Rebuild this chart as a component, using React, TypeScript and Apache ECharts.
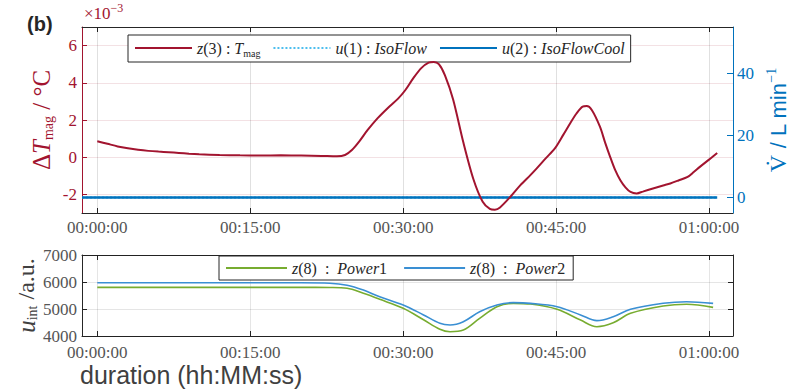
import React, { useEffect, useRef } from "react";
import * as echarts from "echarts";

// time in minutes
const tempT = [0, 1, 2, 3, 4, 5, 6, 7, 8, 9, 10, 12, 14, 16, 18, 20, 22, 23.5, 24.3, 25.0, 25.7, 26.5, 27.5, 28.5, 29.5, 30.2, 31.0, 31.8, 32.5, 33.0, 33.5, 34.1, 34.9, 35.9, 36.9, 37.8, 38.5, 39.0, 39.5, 40.5, 41.5, 42.5, 43.1, 44.0, 44.9, 45.7, 46.4, 47.0, 47.6, 48.0, 48.5, 49.3, 49.8, 50.3, 50.8, 51.3, 51.8, 52.3, 52.9, 53.5, 54.5, 55.5, 56.2, 57.0, 57.9, 58.5, 59.1, 60.0, 60.8];
const tempV = [0.86, 0.72, 0.58, 0.48, 0.40, 0.34, 0.30, 0.27, 0.23, 0.19, 0.16, 0.12, 0.10, 0.09, 0.10, 0.09, 0.07, 0.05, 0.12, 0.4, 0.85, 1.45, 2.1, 2.65, 3.15, 3.6, 4.25, 4.8, 5.08, 5.12, 5.0, 4.4, 3.1, 0.8, -1.2, -2.4, -2.78, -2.82, -2.7, -2.14, -1.5, -0.95, -0.6, -0.05, 0.49, 1.2, 1.84, 2.35, 2.72, 2.75, 2.54, 1.64, 0.8, 0.02, -0.7, -1.24, -1.62, -1.87, -1.95, -1.85, -1.68, -1.52, -1.41, -1.25, -1.06, -0.8, -0.52, -0.13, 0.23];

const flowT = [-1.5, 60.8];
const isoFlow = [0, 0];
const isoFlowCool = [0, 0];

const powT = [0, 10, 20, 22.8, 24.5, 26.1, 27.7, 30.0, 32.0, 33.6, 34.6, 35.9, 37.5, 39.2, 40.8, 42.5, 45.1, 47.4, 49.0, 50.6, 52.3, 55.5, 57.8, 60.4];
const power1 = [5800, 5800, 5800, 5795, 5770, 5580, 5360, 5025, 4600, 4250, 4160, 4220, 4650, 5085, 5210, 5185, 4990, 4590, 4345, 4490, 4840, 5110, 5175, 5060];
const power2 = [5970, 5970, 5970, 5955, 5880, 5700, 5455, 5150, 4780, 4470, 4410, 4530, 4900, 5150, 5235, 5210, 5085, 4780, 4570, 4715, 4990, 5210, 5270, 5210];

const xTicks = [0, 15, 30, 45, 60];
const tempTicks = [-2, 0, 2, 4, 6];
const flowTicks = [0, 20, 40];
const powTicks = [4000, 5000, 6000, 7000];

const CRIMSON = "#A2142F";
const BLUE = "#0072BD";
const LBLUE = "#4DBEEE";
const GREEN = "#77AC30";
const BLUE2 = "#3A8FD3";
const GRAY = "#555555";
const DARK = "#262626";
const SERIF = "'Liberation Serif', serif";

const pad = (n: number) => (n < 10 ? "0" + n : "" + n);
const fmtTime = (v: number) => {
  const tot = Math.round(v * 60);
  const h = Math.floor(tot / 3600);
  const m = Math.floor((tot % 3600) / 60);
  const s = tot % 60;
  return pad(h) + ":" + pad(m) + ":" + pad(s);
};
const zip = (a: number[], b: number[]) => a.map((x, i) => [x, b[i]]);

const legendRich = {
  it: { fontFamily: SERIF, fontStyle: "italic", fontSize: 16, color: DARK },
  n: { fontFamily: SERIF, fontSize: 16, color: DARK },
  s: { fontFamily: SERIF, fontSize: 10, color: DARK, verticalAlign: "bottom", lineHeight: 20 },
};
const legendLabels: Record<string, string> = {
  "z3": "{it|z}{n|(3) : }{it|T}{s|mag}",
  "u1": "{it|u}{n|(1) : }{it|IsoFlow}",
  "u2": "{it|u}{n|(2) : }{it|IsoFlowCool}",
  "p1": "{it|z}{n|(8)\u00a0\u00a0:\u00a0\u00a0}{it|Power}{n|1}",
  "p2": "{it|z}{n|(8)\u00a0\u00a0:\u00a0\u00a0}{it|Power}{n|2}",
};

export default function App() {
  const ref = useRef<HTMLDivElement>(null);
  useEffect(() => {
    if (!ref.current) return;
    const chart = echarts.init(ref.current, null, { renderer: "svg" });
    const XMIN = -1.5, XMAX = 62.35;
    const xBottom = (grid: number, margin: number) => ({
      type: "value", gridIndex: grid, min: XMIN, max: XMAX, position: "bottom",
      axisLine: { onZero: false, lineStyle: { color: DARK, width: 1 } },
      axisTick: { inside: true, length: 5, customValues: xTicks, lineStyle: { color: DARK } },
      axisLabel: { customValues: xTicks, formatter: fmtTime, fontFamily: SERIF, fontSize: 17, color: GRAY, margin },
      splitLine: { show: false },
    });
    const xTop = (grid: number) => ({
      type: "value", gridIndex: grid, min: XMIN, max: XMAX, position: "top",
      axisLine: { onZero: false, lineStyle: { color: DARK, width: 1 } },
      axisTick: { inside: true, length: 5, customValues: xTicks, lineStyle: { color: DARK } },
      axisLabel: { show: false },
      splitLine: { show: false },
    });
    const option: any = {
      animation: false,
      backgroundColor: "#ffffff",
      textStyle: { fontFamily: SERIF },
      grid: [
        { left: 82, right: 61, top: 27, height: 186, outerBoundsMode: "none", containLabel: false },
        { left: 82, right: 61, top: 255, height: 81, outerBoundsMode: "none", containLabel: false },
      ],
      xAxis: [xBottom(0, 6), xTop(0), xBottom(1, 8), xTop(1)],
      yAxis: [
        {
          type: "value", gridIndex: 0, min: -3, max: 7, position: "left",
          axisLine: { show: true, onZero: false, lineStyle: { color: CRIMSON, width: 1 } },
          axisTick: { show: true, inside: true, length: 5, customValues: tempTicks, lineStyle: { color: CRIMSON } },
          axisLabel: { customValues: tempTicks, formatter: (v: number) => String(v), fontFamily: SERIF, fontSize: 17, color: CRIMSON, margin: 5 },
          splitLine: { show: false },
          name: "{d|Δ}{it|T}{s|mag}{d| / °C}",
          nameLocation: "middle", nameRotate: 90, nameGap: 27, nameMoveOverlap: false,
          nameTextStyle: {
            color: CRIMSON, fontFamily: SERIF, fontSize: 25,
            rich: {
              d: { fontFamily: SERIF, fontSize: 25, color: CRIMSON, lineHeight: 28 },
              it: { fontFamily: SERIF, fontStyle: "italic", fontSize: 25, color: CRIMSON, lineHeight: 28 },
              s: { fontFamily: SERIF, fontSize: 14, color: CRIMSON, verticalAlign: "bottom", lineHeight: 28 },
            },
          },
        },
        {
          type: "value", gridIndex: 0, min: -5, max: 55, position: "right",
          axisLine: { show: true, onZero: false, lineStyle: { color: BLUE, width: 1 } },
          axisTick: { show: true, inside: true, length: 6, customValues: flowTicks, lineStyle: { color: BLUE } },
          axisLabel: { customValues: flowTicks, formatter: (v: number) => String(v), fontFamily: SERIF, fontSize: 17, color: BLUE, margin: 4 },
          splitLine: { show: false },
          name: "{v|V̇}{d| / L min}{sup|−1}",
          nameLocation: "middle", nameRotate: 90, nameGap: 31, nameMoveOverlap: false,
          nameTextStyle: {
            color: BLUE, fontSize: 23,
            rich: {
              v: { fontFamily: SERIF, fontSize: 24, color: BLUE, lineHeight: 28 },
              d: { fontFamily: "'Liberation Sans', sans-serif", fontSize: 22, color: BLUE, lineHeight: 28 },
              sup: { fontFamily: SERIF, fontSize: 14, color: BLUE, verticalAlign: "top", lineHeight: 28 },
            },
          },
        },
        {
          type: "value", gridIndex: 1, min: 4000, max: 7000, interval: 1000, position: "left",
          axisLine: { show: true, onZero: false, lineStyle: { color: DARK, width: 1 } },
          axisTick: { show: true, inside: true, length: 5, lineStyle: { color: DARK } },
          axisLabel: { formatter: (v: number) => String(v), fontFamily: SERIF, fontSize: 17, color: GRAY, margin: 5 },
          splitLine: { show: false },
          name: "{it|u}{s|int}{d| /a.u.}",
          nameLocation: "middle", nameRotate: 90, nameGap: 43, nameMoveOverlap: false,
          nameTextStyle: {
            color: "#404040", fontSize: 24,
            rich: {
              it: { fontFamily: SERIF, fontStyle: "italic", fontSize: 25, color: "#404040", lineHeight: 26 },
              d: { fontFamily: SERIF, fontSize: 24, color: "#404040", lineHeight: 26 },
              s: { fontFamily: SERIF, fontSize: 14, color: "#404040", verticalAlign: "bottom", lineHeight: 26 },
            },
          },
        },
        {
          type: "value", gridIndex: 1, min: 4000, max: 7000, interval: 1000, position: "right",
          axisLine: { show: true, onZero: false, lineStyle: { color: DARK, width: 1 } },
          axisTick: { show: true, inside: true, length: 5, lineStyle: { color: DARK } },
          axisLabel: { show: false },
          splitLine: { show: false },
        },
      ],
      legend: [
        {
          data: ["z3", "u1", "u2"],
          left: 128, top: 35, orient: "horizontal",
          itemWidth: 57, itemHeight: 12, itemGap: 12,
          padding: [5, 6, 4, 6],
          borderColor: DARK, borderWidth: 1, backgroundColor: "#ffffff",
          itemStyle: { opacity: 0 },
          formatter: (n: string) => legendLabels[n],
          textStyle: { fontFamily: SERIF, fontSize: 16, color: DARK, rich: legendRich },
        },
        {
          data: ["p1", "p2"],
          left: 219, top: 256, orient: "horizontal",
          itemWidth: 61, itemHeight: 12, itemGap: 16,
          padding: [4, 8, 4, 6],
          borderColor: DARK, borderWidth: 1, backgroundColor: "#ffffff",
          itemStyle: { opacity: 0 },
          formatter: (n: string) => legendLabels[n],
          textStyle: { fontFamily: SERIF, fontSize: 16, color: DARK, rich: legendRich },
        },
      ],
      series: [
        {
          name: "u1", type: "line", xAxisIndex: 0, yAxisIndex: 1, data: zip(flowT, isoFlow),
          symbol: "none", lineStyle: { color: LBLUE, width: 2, type: "dotted" }, itemStyle: { color: LBLUE }, z: 3,
        },
        {
          name: "u2", type: "line", xAxisIndex: 0, yAxisIndex: 1, data: zip(flowT, isoFlowCool),
          symbol: "none", lineStyle: { color: BLUE, width: 2.5 }, itemStyle: { color: BLUE }, z: 4,
        },
        {
          name: "z3", type: "line", xAxisIndex: 0, yAxisIndex: 0, data: zip(tempT, tempV),
          symbol: "none", smooth: 0.3, lineStyle: { color: CRIMSON, width: 2 }, itemStyle: { color: CRIMSON }, z: 5,
          markLine: {
            silent: true, symbol: ["none", "none"], label: { show: false }, z: 1,
            data: [
              ...tempTicks.map((v) => ({ yAxis: v, lineStyle: { color: "rgba(162,20,47,0.13)", width: 1, type: "solid" } })),
              ...xTicks.map((v) => ({ xAxis: v, lineStyle: { color: "rgba(0,0,0,0.12)", width: 1, type: "solid" } })),
            ],
          },
        },
        {
          name: "p1", type: "line", xAxisIndex: 2, yAxisIndex: 2, data: zip(powT, power1),
          symbol: "none", smooth: 0.35, lineStyle: { color: GREEN, width: 1.6 }, itemStyle: { color: GREEN }, z: 4,
          markLine: {
            silent: true, symbol: ["none", "none"], label: { show: false }, z: 1,
            data: [
              ...powTicks.map((v) => ({ yAxis: v, lineStyle: { color: "rgba(0,0,0,0.1)", width: 1, type: "solid" } })),
              ...xTicks.map((v) => ({ xAxis: v, lineStyle: { color: "rgba(0,0,0,0.1)", width: 1, type: "solid" } })),
            ],
          },
        },
        {
          name: "p2", type: "line", xAxisIndex: 2, yAxisIndex: 2, data: zip(powT, power2),
          symbol: "none", smooth: 0.35, lineStyle: { color: BLUE2, width: 1.6 }, itemStyle: { color: BLUE2 }, z: 5,
        },
      ],
      graphic: [
        {
          type: "text", left: 27, top: 14,
          style: { text: "(b)", font: "bold 20px 'Liberation Sans'", fill: DARK },
        },
        {
          type: "text", left: 84, top: 2,
          style: {
            text: "{a|×10}{b|−3}",
            rich: {
              a: { fontFamily: SERIF, fontSize: 17, fill: CRIMSON, color: CRIMSON, verticalAlign: "bottom", lineHeight: 20 },
              b: { fontFamily: SERIF, fontSize: 12, fill: CRIMSON, color: CRIMSON, verticalAlign: "top", lineHeight: 20 },
            },
          },
        },
        {
          type: "text", left: 80, top: 362,
          style: { text: "duration (hh:MM:ss)", font: "25px 'Liberation Sans'", fill: "#404040" },
        },
      ],
    };
    chart.setOption(option);
    return () => chart.dispose();
  }, []);
  return <div ref={ref} style={{ position: "fixed", left: 0, top: 0, width: 794, height: 390 }} />;
}
